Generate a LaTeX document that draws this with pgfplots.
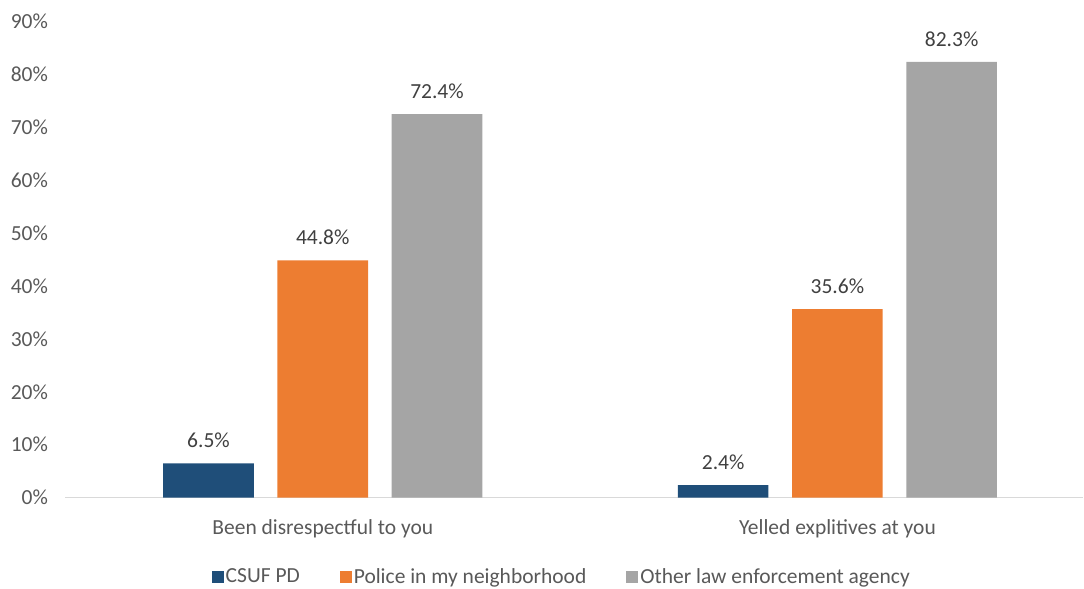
\documentclass[border=0pt]{standalone}
\usepackage{fontspec}
\setmainfont{Carlito}
\usepackage{pgfplots}
\pgfplotsset{compat=1.18}
\definecolor{cblue}{HTML}{1F4E79}
\definecolor{corange}{HTML}{ED7D31}
\definecolor{cgray}{HTML}{A5A5A5}
\definecolor{ctext}{HTML}{595959}
\definecolor{clab}{HTML}{404040}
\definecolor{caxis}{HTML}{D9D9D9}
\begin{document}
\begin{tikzpicture}[font=\fontsize{21.5bp}{25bp}\selectfont]
\begin{axis}[
  scale only axis,
  width=1018.5bp, height=477bp,
  xmin=-0.5, xmax=1.478,
  ymin=0, ymax=90,
  ytick={0,10,...,90},
  yticklabel={\pgfmathprintnumber{\tick}\%},
  /pgf/number format/assume math mode=true,
  xtick={0,1},
  xticklabels={Been disrespectful to you, Yelled explitives at you},
  axis x line*=bottom,
  axis y line*=left,
  x axis line style={draw=caxis, line width=1.2bp, -},
  y axis line style={draw=none},
  major tick length=0pt,
  tick label style={text=ctext},
  xticklabel style={yshift=-18bp},
  yticklabel style={xshift=-14bp},
  ybar,
  bar width=0.176,
  clip=false,
  nodes near coords={\pgfmathprintnumber[fixed,fixed zerofill,precision=1]{\pgfplotspointmeta}\%},
  every node near coord/.append style={text=clab, yshift=12bp},
  legend columns=3,
  legend style={draw=none, at={(0.4875,0)}, anchor=center, yshift=-79bp,
    /tikz/every even column/.append style={column sep=38bp}, text=ctext,
    font=\fontsize{21.5bp}{25bp}\selectfont},
  legend image code/.code={\fill[#1] (0bp,-6bp) rectangle (12bp,6bp);},
]
\addplot[fill=cblue, draw=none, bar shift=-0.222] coordinates {(0,6.5) (1,2.4)};
\addplot[fill=corange, draw=none, bar shift=0] coordinates {(0,44.8) (1,35.6)};
\addplot[fill=cgray, draw=none, bar shift=0.222] coordinates {(0,72.4) (1,82.3)};
\legend{CSUF PD, Police in my neighborhood, Other law enforcement agency}
\path[draw=none] (rel axis cs:-0.0643,-0.1845) rectangle (rel axis cs:1,1.044);
\end{axis}
\end{tikzpicture}
\end{document}
